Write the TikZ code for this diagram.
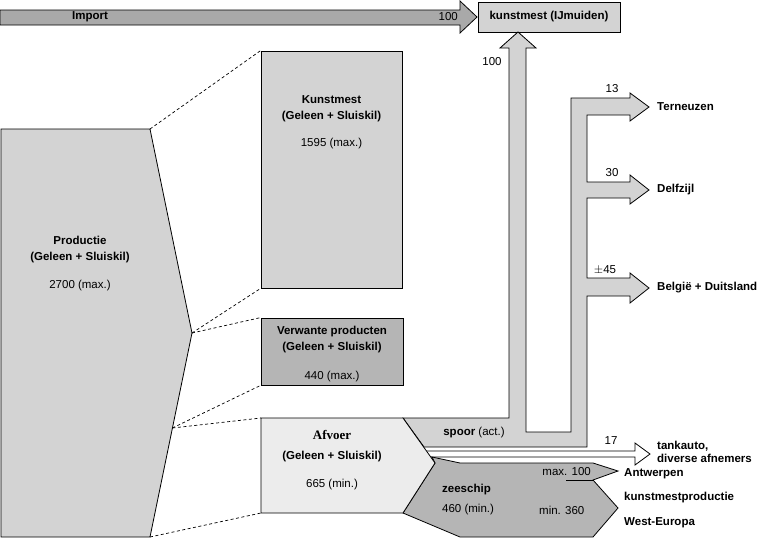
\documentclass[tikz,border=0pt]{standalone}
\usepackage{fontspec}
\setmainfont{Liberation Sans}
\newfontfamily\afvoerfont{Liberation Serif}
\usetikzlibrary{positioning}
\definecolor{importgray}{HTML}{A9A9A9}
\definecolor{shipgray}{HTML}{B5B5B5}
\definecolor{lightgray}{HTML}{D3D3D3}
\definecolor{palegray}{HTML}{ECECEC}
\tikzset{
  flow/.style={draw=black, line width=0.8pt, line join=miter},
  box/.style={draw=black, line width=0.8pt, rectangle, inner sep=0pt},
  link/.style={draw=black, line width=0.7pt, dash pattern=on 3pt off 2.5pt},
  lbl/.style={font=\fontsize{11.5}{13}\selectfont, inner sep=1pt},
  boxtext/.style={font=\fontsize{11.5}{16}\selectfont, align=center, anchor=north, inner sep=0pt},
  place/.style={lbl, font=\bfseries\fontsize{11.5}{13}\selectfont, anchor=west, align=left}
}
\begin{document}
\begin{tikzpicture}[x=1pt, y=-1pt]
\useasboundingbox (0,0) rectangle (760,538);

% import arrow
\draw[flow, fill=importgray] (0,10) -- (460,10) -- (460,1) -- (477,17) -- (460,33) -- (460,25) -- (0,25) -- cycle;
\node[lbl, font=\bfseries\fontsize{11.5}{13}\selectfont] (import) at (90,17) {Import};
\node[lbl, anchor=east] (importval) at (459,17) {100};
\node[box, fill=lightgray, minimum width=142pt, minimum height=30pt, font=\bfseries\fontsize{11.5}{13}\selectfont] (ijmuiden) at (549,17) {kunstmest (IJmuiden)};

% productie
\coordinate (pTL) at (1,129);
\coordinate (pTR) at (150,129);
\coordinate (pTip) at (192,333);
\coordinate (pLow) at (172.4,428);
\coordinate (pBR) at (150,537);
\coordinate (pBL) at (1,537);
\draw[flow, fill=lightgray] (pTL) -- (pTR) -- (pTip) -- (pBR) -- (pBL) -- cycle;
\node[boxtext] (prodtxt) at (80,236) {\textbf{Productie}\\\textbf{(Geleen + Sluiskil)}\\[12pt]2700 (max.)};

% kunstmest en verwante producten
\node[box, fill=lightgray, minimum width=141pt, minimum height=237pt] (kunst) at (331.5,169.5) {};
\node[boxtext, below=44.5pt of kunst.north] (kunsttxt) {\textbf{Kunstmest}\\\textbf{(Geleen + Sluiskil)}\\[11pt]1595 (max.)};
\node[box, fill=shipgray, minimum width=142pt, minimum height=67pt] (verw) at (332,351.5) {};
\node[boxtext, below=8.5pt of verw.north] (verwtxt) {\textbf{Verwante producten}\\\textbf{(Geleen + Sluiskil)}\\[13pt]440 (max.)};

% spoor
\draw[flow, fill=lightgray] (403,418) -- (509,418) -- (509,48) -- (500,48) -- (518,32)
  -- (536,48) -- (526,48) -- (526,432) -- (571,432) -- (571,98)
  -- (630,98) -- (630,93) -- (649,107) -- (630,121) -- (630,115) -- (587,115)
  -- (587,182) -- (630,182) -- (630,175) -- (649,190) -- (630,204) -- (630,198) -- (587,198)
  -- (587,278) -- (630,278) -- (630,273) -- (649,288) -- (630,303) -- (630,296) -- (587,296)
  -- (587,447) -- (424,447) -- cycle;
\draw[flow, fill=white] (420,451) -- (635,451) -- (635,443) -- (650,454) -- (635,465) -- (635,457) -- (420,457) -- cycle;

% zeeschip
\draw[flow, fill=shipgray] (432,457) -- (460,463) -- (593,463) -- (618,471) -- (593,480)
  -- (618,508) -- (593,537) -- (460,537) -- (403,513) -- (435,463) -- cycle;
\draw[flow] (566,480) -- (593,480);

% afvoer
\coordinate (aTL) at (261,418);
\coordinate (aTR) at (403,418);
\coordinate (aTip) at (435,463);
\coordinate (aBR) at (403,513);
\coordinate (aBL) at (261,513);
\draw[flow, fill=palegray] (aTL) -- (aTR) -- (aTip) -- (aBR) -- (aBL) -- cycle;
\node[boxtext] (afvtxt) at (332,430) {{\afvoerfont\bfseries\fontsize{13}{14}\selectfont Afvoer}\\[4pt]\textbf{(Geleen + Sluiskil)}\\[12pt]665 (min.)};

% verbindingen
\draw[link] (pTR) -- (kunst.north west);
\draw[link] (pTip) -- (kunst.south west);
\draw[link] (pTip) -- (verw.north west);
\draw[link] (pLow) -- (verw.south west);
\draw[link] (pLow) -- (aTL);
\draw[link] (pBR) -- (aBL);

% labels
\node[lbl] (v100) at (492,62) {100};
\node[lbl] (v13) at (612,89) {13};
\node[lbl] (v30) at (612,173) {30};
\node[lbl] (v45) at (605,270) {$\pm$45};
\node[lbl] (v17) at (611,441) {17};
\node[lbl] (spoor) at (474,433) {\textbf{spoor} (act.)};
\node[lbl, font=\bfseries\fontsize{11.5}{13}\selectfont, anchor=west] (zee) at (441,490) {zeeschip};
\node[lbl, anchor=west] (zeeval) at (441,510) {460 (min.)};
\node[lbl, anchor=west] (west) at (538,510) {min. 360};
\node[lbl, anchor=east] (antw) at (592,472) {max. 100};

\node[place] (terneuzen) at (656,107) {Terneuzen};
\node[place] (delfzijl) at (656,190) {Delfzijl};
\node[place] (belgie) at (656,288) {België + Duitsland};
\node[place] (tankauto) at (656,452) {tankauto,\\diverse afnemers};
\node[place] (antwerpen) at (623,474) {Antwerpen};
\node[place] (kmprod) at (623,498) {kunstmestproductie};
\node[place] (westeur) at (623,523) {West-Europa};
\end{tikzpicture}
\end{document}
